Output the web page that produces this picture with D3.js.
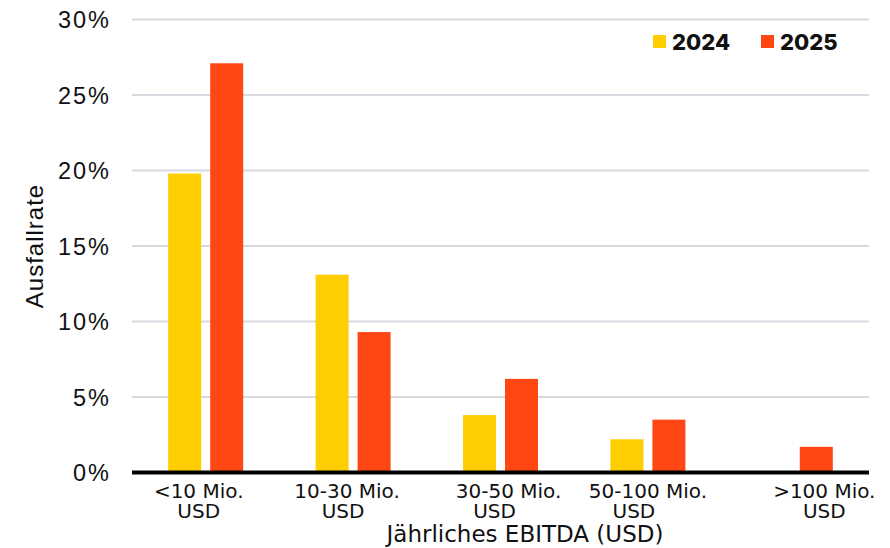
<!DOCTYPE html>
<html><head><meta charset="utf-8">
<script src="https://cdn.jsdelivr.net/npm/d3@7"></script>
<style>body{margin:0;background:#fff;} svg{display:block;}</style>
</head><body>
<svg id="c" width="890" height="548"></svg>
<script>
const categories = [["<10 Mio.","USD"],["10-30 Mio.","USD"],["30-50 Mio.","USD"],["50-100 Mio.","USD"],[">100 Mio.","USD"]];
const series = ["2024","2025"];
const values2024 = [19.8, 13.1, 3.8, 2.2, null];
const values2025 = [27.1, 9.3, 6.2, 3.5, 1.7];
const yTicks = [0, 5, 10, 15, 20, 25, 30];
const colors = ["#FFCE00", "#FF4713"];
const yTitle = "Ausfallrate";
const xTitle = "Jährliches EBITDA (USD)";

// layout tweaks (label nudges in px, [line1, line2])
const labelDx = [[-7, -7], [-6, -10], [8, -6], [0, -14], [29, 29]];

const svg = d3.select("#c");
const L = 132, R = 869, T = 19.5, B = 472.5;
const x0 = d3.scaleBand().domain(d3.range(categories.length)).range([L, R]);
const barW = 33, gap = 9;
const x1 = d3.scaleOrdinal().domain(series).range([-(barW + gap/2), gap/2]);
const y = d3.scaleLinear().domain([0, 30]).range([B, T]);
const tickFont = "'Liberation Sans', Arial, sans-serif";
const catFont = "'DejaVu Sans', sans-serif";

// grid
svg.append("g").selectAll("line").data(yTicks.filter(d => d > 0)).join("line")
  .attr("x1", L).attr("x2", R).attr("y1", d => y(d)).attr("y2", d => y(d))
  .attr("stroke", "#d9d8e0").attr("stroke-width", 2);

// y axis labels
const yAxis = d3.axisLeft(y).tickValues(yTicks).tickFormat(d => d + "%").tickSize(0).tickPadding(21);
const ya = svg.append("g").attr("transform", `translate(${L},0)`).call(yAxis);
ya.select(".domain").remove();
ya.selectAll("text").attr("font-family", tickFont).attr("font-size", 23.5)
  .attr("letter-spacing", 2).attr("fill", "#111").attr("dy", "0.36em");

// bars
const data = [];
categories.forEach((c, i) => {
  [values2024, values2025].forEach((vals, s) => {
    if (vals[i] != null) data.push({i, s: series[s], v: vals[i], color: colors[s]});
  });
});
svg.append("g").selectAll("rect").data(data).join("rect")
  .attr("x", d => x0(d.i) + x0.bandwidth()/2 + x1(d.s))
  .attr("width", barW)
  .attr("y", d => y(d.v))
  .attr("height", d => y(0) - y(d.v))
  .attr("fill", d => d.color);

// baseline
svg.append("line").attr("x1", L).attr("x2", R).attr("y1", y(0)).attr("y2", y(0))
  .attr("stroke", "#000").attr("stroke-width", 4);

// x category labels
const xl = svg.append("g");
categories.forEach((c, i) => {
  c.forEach((line, k) => {
    xl.append("text").attr("text-anchor", "middle")
      .attr("font-family", catFont).attr("font-size", 20).attr("fill", "#111")
      .attr("x", x0(i) + x0.bandwidth()/2 + labelDx[i][k]).attr("y", 498 + k * 20).text(line);
  });
});

// x title
svg.append("text").attr("x", 525).attr("y", 541.5).attr("text-anchor", "middle")
  .attr("font-family", catFont).attr("font-size", 23).attr("fill", "#111").text(xTitle);

// y title
svg.append("text").attr("transform", "translate(43,246) rotate(-90)").attr("text-anchor", "middle")
  .attr("font-family", tickFont).attr("font-size", 24).attr("letter-spacing", 1)
  .attr("fill", "#111").text(yTitle);

// legend
const lg = svg.append("g");
const legX = [653, 761];
series.forEach((s, k) => {
  lg.append("rect").attr("x", legX[k]).attr("y", 35).attr("width", 13).attr("height", 13).attr("fill", colors[k]);
  lg.append("text").attr("x", legX[k] + 19).attr("y", 49.5)
    .attr("font-family", "Inter, 'Open Sans', sans-serif").attr("font-weight", 800)
    .attr("font-size", 22).attr("fill", "#111").text(s);
});
</script>
</body></html>
